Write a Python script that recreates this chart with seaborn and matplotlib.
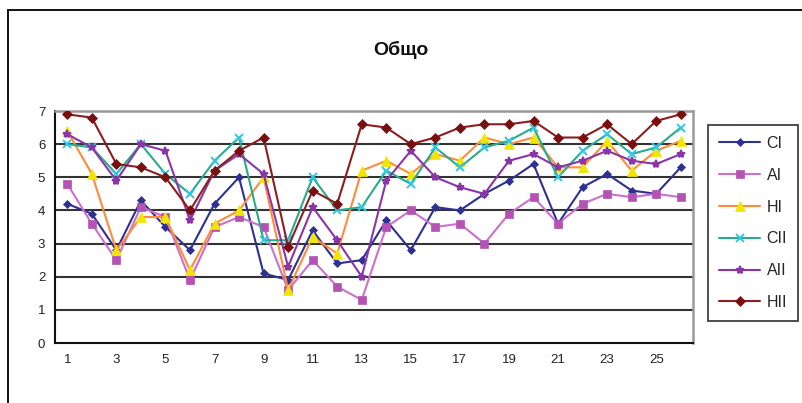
import numpy as np
import pandas as pd
import matplotlib
matplotlib.use("Agg")
import matplotlib.pyplot as plt
from matplotlib.lines import Line2D
import seaborn as sns

# --- data ---
points = list(range(1, 27))
series_names = ["CI", "AI", "HI", "CII", "AII", "HII"]

ci = [4.2, 3.9, 2.8, 4.3, 3.5, 2.8, 4.2, 5.0, 2.1, 1.9, 3.4, 2.4, 2.5,
      3.7, 2.8, 4.1, 4.0, 4.5, 4.9, 5.4, 3.6, 4.7, 5.1, 4.6, 4.5, 5.3]
ai = [4.8, 3.6, 2.5, 4.1, 3.8, 1.9, 3.5, 3.8, 3.5, 1.6, 2.5, 1.7, 1.3,
      3.5, 4.0, 3.5, 3.6, 3.0, 3.9, 4.4, 3.6, 4.2, 4.5, 4.4, 4.5, 4.4]
hi = [6.4, 5.1, 2.8, 3.8, 3.8, 2.2, 3.6, 4.0, 5.0, 1.6, 3.2, 2.7, 5.2,
      5.5, 5.1, 5.7, 5.5, 6.2, 6.0, 6.2, 5.3, 5.3, 6.1, 5.2, 5.8, 6.1]
cii = [6.0, 5.9, 5.1, 6.0, 5.1, 4.5, 5.5, 6.2, 3.1, 3.1, 5.0, 4.0, 4.1,
       5.2, 4.8, 5.9, 5.3, 5.9, 6.1, 6.5, 5.0, 5.8, 6.3, 5.7, 5.9, 6.5]
aii = [6.3, 5.9, 4.9, 6.0, 5.8, 3.7, 5.2, 5.7, 5.1, 2.3, 4.1, 3.1, 2.0,
       4.9, 5.8, 5.0, 4.7, 4.5, 5.5, 5.7, 5.3, 5.5, 5.8, 5.5, 5.4, 5.7]
hii = [6.9, 6.8, 5.4, 5.3, 5.0, 4.0, 5.2, 5.8, 6.2, 2.9, 4.6, 4.2, 6.6,
       6.5, 6.0, 6.2, 6.5, 6.6, 6.6, 6.7, 6.2, 6.2, 6.6, 6.0, 6.7, 6.9]

title = "Общо"

# style per series: line colour, marker, marker face colour, marker size
styles = {
    "CI": ("#2E3192", "D", "#2E3192", 4.5),
    "AI": ("#CC70CC", "s", "#B453B4", 6),
    "HI": ("#FF8C3A", "^", "#F2E600", 7),
    "CII": ("#2BAA8C", "x", "#30C8E8", 6),
    "AII": ("#8A35A8", "*", "#8A35A8", 6),
    "HII": ("#8B1E1E", "D", "#7A0F0F", 5),
}

df = pd.DataFrame({"Point": points, "CI": ci, "AI": ai, "HI": hi,
                   "CII": cii, "AII": aii, "HII": hii})
df_long = df.melt(id_vars="Point", var_name="Series", value_name="Value")
df_long["pos"] = df_long["Point"] - 1

sns.set_style("white")
plt.rcParams["font.family"] = ["Liberation Sans", "DejaVu Sans"]

fig = plt.figure(figsize=(8.02, 4.03), dpi=100)
ax = fig.add_axes([55 / 802, 1 - 343 / 403, (693 - 55) / 802, (343 - 111) / 403])

# gridlines first so lines sit on top
for yv in range(1, 8):
    ax.axhline(yv, color="#333333", lw=1.5, zorder=0)

for name in series_names:
    lc, mk, mfc, ms = styles[name]
    sub = df_long[df_long["Series"] == name]
    sns.lineplot(data=sub, x="pos", y="Value", ax=ax, color=lc, lw=1.5,
                 marker=mk, markersize=ms, markerfacecolor=mfc,
                 markeredgecolor=mfc, markeredgewidth=1.4 if mk in "x*" else 0.5,
                 label=name, zorder=3)

ax.set_xlim(-0.5, len(points) - 0.5)
ax.set_ylim(0, 7)
ax.set_yticks(range(0, 8))
ax.set_xticks(np.arange(0, len(points), 2))
ax.set_xticklabels([str(p) for p in points[::2]])
ax.set_xticks(np.arange(-0.5, len(points), 1.0), minor=True)
ax.tick_params(axis="x", which="major", length=0, pad=8, labelsize=9.5,
               colors="#222222")
ax.tick_params(axis="x", which="minor", length=4, width=1.2, color="#222222",
               direction="out")
ax.tick_params(axis="y", length=4, width=1.2, direction="out", labelsize=9.5,
               colors="#222222", pad=3)
ax.set_xlabel("")
ax.set_ylabel("")

for side in ["left", "bottom"]:
    ax.spines[side].set_color("#111111")
    ax.spines[side].set_linewidth(1.5)
for side in ["top", "right"]:
    ax.spines[side].set_color("#9a9a9a")
    ax.spines[side].set_linewidth(1.8)

fig.text(0.5, 1 - 50 / 403, title, ha="center", va="center", fontsize=14,
         fontweight="bold", color="#111111")

handles, labels = ax.get_legend_handles_labels()
leg = fig.legend(handles, labels, loc="center", bbox_to_anchor=(753 / 802, 1 - 223 / 403),
                 frameon=True, fancybox=False, fontsize=11.5, labelspacing=1.05,
                 handlelength=2.6, handletextpad=0.4, borderpad=0.7)
leg.get_frame().set_edgecolor("#111111")
leg.get_frame().set_linewidth(1.3)
if ax.get_legend():
    ax.get_legend().remove()

# outer chart frame (left and top edges visible)
fig.add_artist(Line2D([8 / 802, 8 / 802], [0, 1 - 10 / 403],
                      transform=fig.transFigure, color="#111111", lw=1.4))
fig.add_artist(Line2D([8 / 802, 1], [1 - 10 / 403, 1 - 10 / 403],
                      transform=fig.transFigure, color="#111111", lw=1.4))

fig.savefig("out.png", dpi=100)
